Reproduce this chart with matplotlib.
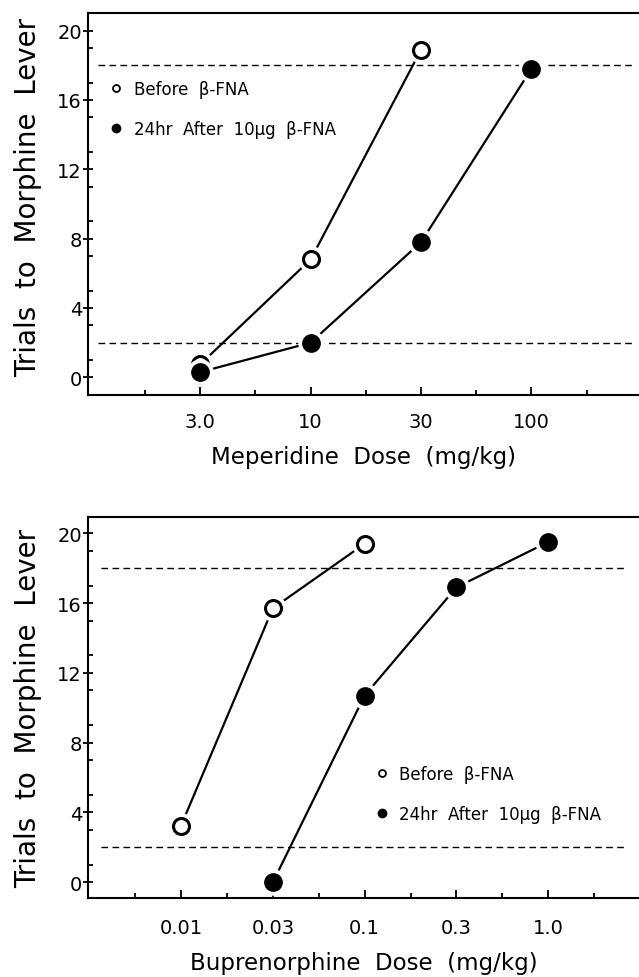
import matplotlib
matplotlib.use("Agg")
from matplotlib import pyplot as plt
from matplotlib.lines import Line2D

# data (x = dose index on evenly spaced dose axis)
mep_doses = ["3.0", "10", "30", "100"]
mep_before = [0.75, 6.8, 18.9]
mep_after = [0.3, 2.0, 7.8, 17.8]

bup_doses = ["0.01", "0.03", "0.1", "0.3", "1.0"]
bup_before = [3.25, 15.7, 19.4]
bup_after = [0.0, 10.7, 16.9, 19.5]
bup_after_start = 1  # first "after" dose is 0.03

criteria = [2, 18]
y_major = [0, 4, 8, 12, 16, 20]
y_minor = [1, 3, 5, 7, 9, 11, 13, 15, 17, 19]

plt.rcParams['font.family'] = ['DejaVu Sans']
plt.rcParams['lines.scale_dashes'] = False


def series(ax, xs, ys, filled, z):
    # line with white gap around each marker
    ax.plot(xs, ys, color='black', lw=1.6, zorder=z, solid_capstyle='butt')
    ax.plot(xs, ys, ls='none', marker='o', ms=19, mfc='white', mec='white', mew=0, zorder=z + 0.1)
    if filled:
        ax.plot(xs, ys, ls='none', marker='o', ms=13.5, mfc='black', mec='black', mew=0, zorder=z + 0.3)
    else:
        ax.plot(xs, ys, ls='none', marker='o', ms=11.5, mfc='white', mec='black', mew=2.2, zorder=z + 0.3)


def setup(ax, labels, xlim, ylim, xlabel, dash_x, xpad, lpad, ly):
    for y in criteria:
        ax.plot(dash_x, [y, y], color='black', lw=1.0, dashes=(4.8, 3.1), zorder=2.2)
    ax.set_xlim(*xlim)
    ax.set_ylim(*ylim)
    n = len(labels)
    ax.set_xticks(range(n))
    ax.set_xticklabels(labels)
    ax.set_xticks([i - 0.5 for i in range(n + 1)], minor=True)
    ax.set_yticks(y_major)
    ax.set_yticks(y_minor, minor=True)
    ax.spines['right'].set_visible(False)
    for s in ['left', 'top', 'bottom']:
        ax.spines[s].set_linewidth(1.5)
    ax.tick_params(axis='x', which='major', direction='in', length=6, width=1.3, pad=xpad, labelsize=14)
    ax.tick_params(axis='x', which='minor', direction='in', length=3.5, width=1.3)
    ax.tick_params(axis='y', which='major', direction='inout', length=7, width=1.3, pad=1, labelsize=14)
    ax.tick_params(axis='y', which='minor', direction='in', length=3.5, width=1.3)
    ax.set_xlabel(xlabel, fontsize=16.5, labelpad=lpad)
    ax.set_ylabel("Trials  to  Morphine  Lever", fontsize=20)
    ax.yaxis.set_label_coords(-0.084, ly)


def legend(ax, anchor):
    handles = [
        Line2D([], [], ls='none', marker='o', ms=5, mfc='white', mec='black', mew=1.3),
        Line2D([], [], ls='none', marker='o', ms=7, mfc='black', mec='black', mew=0),
    ]
    ax.legend(handles, ["Before  β-FNA", "24hr  After  10μg  β-FNA"], loc='upper left',
              bbox_to_anchor=anchor, frameon=False, fontsize=12, handlelength=0.7,
              handletextpad=0.7, labelspacing=1.3, borderpad=0, borderaxespad=0)


fig = plt.figure(figsize=(6.39, 9.78), dpi=100)

ax1 = fig.add_axes([0.1382, 0.5951, 0.8618, 0.3906])
series(ax1, range(len(mep_before)), mep_before, False, 3)
series(ax1, range(len(mep_after)), mep_after, True, 4)
setup(ax1, mep_doses, (-1.014, 3.974), (-1.02, 21.02), "Meperidine  Dose  (mg/kg)",
      [-0.93, 3.91], 12, 10, 0.52)
legend(ax1, (0.04, 0.825))

ax2 = fig.add_axes([0.1382, 0.0805, 0.8618, 0.3896])
series(ax2, range(len(bup_before)), bup_before, False, 3)
series(ax2, range(bup_after_start, bup_after_start + len(bup_after)), bup_after, True, 4)
setup(ax2, bup_doses, (-1.011, 4.99), (-0.917, 20.92), "Buprenorphine  Dose  (mg/kg)",
      [-0.87, 4.85], 14, 10.5, 0.5)
legend(ax2, (0.522, 0.35))

fig.savefig("out.png", dpi=100)
